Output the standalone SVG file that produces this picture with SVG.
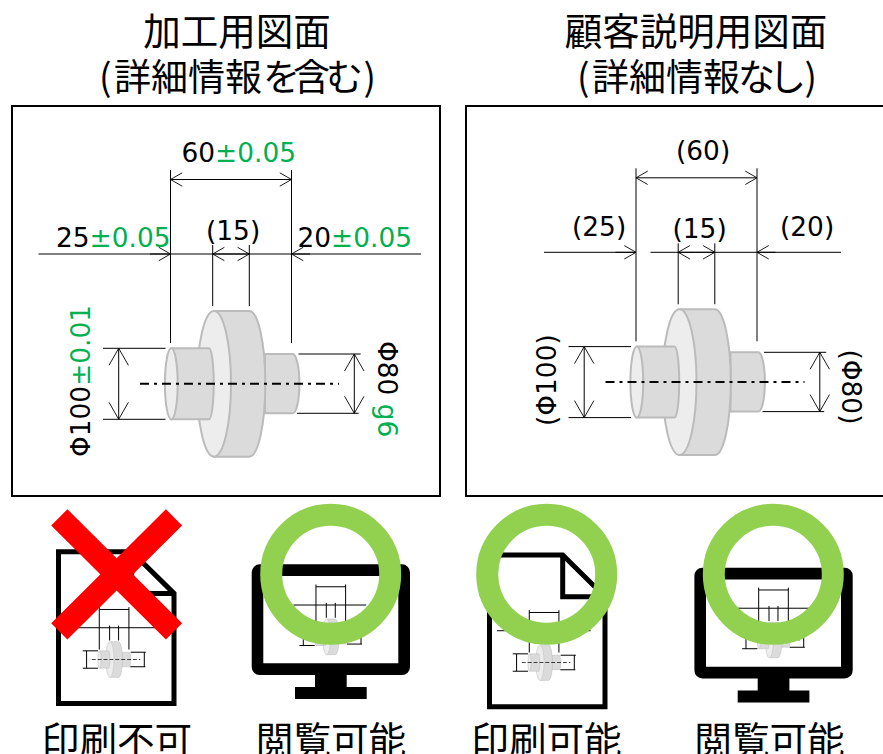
<svg xmlns="http://www.w3.org/2000/svg" width="883" height="754" viewBox="0 0 883 754">
<style>
text{font-family:"DejaVu Sans","Noto Sans CJK JP",sans-serif;font-size:26.4px;fill:#000}
.jp{font-family:"Noto Sans CJK JP",sans-serif;font-size:37.5px;text-anchor:middle}
.lb{font-size:37.6px}
.st{font-family:"Noto Sans CJK JP",sans-serif;font-size:37px}
.g{fill:#00B050}
.frame{fill:#fff;stroke:#000;stroke-width:2}
.ln{stroke:#000;stroke-width:1;fill:none;vector-effect:non-scaling-stroke}
.side{fill:#DBDBDB;stroke:#BBBBBB;stroke-width:2}
.face{fill:#EDEDED;stroke:#BBBBBB;stroke-width:2}
.cl{stroke:#000;stroke-width:2;stroke-dasharray:9 5 3 5;fill:none}
.ah{marker-end:url(#ah)}
.dh{marker-start:url(#av);marker-end:url(#av)}
.dhh{marker-start:url(#ah);marker-end:url(#ah)}
.ring{fill:none;stroke:#92D050;stroke-width:22}
.doc{fill:#fff;stroke:#000;stroke-width:5;stroke-linejoin:miter}
</style>
<defs>
<marker id="ah" markerUnits="userSpaceOnUse" markerWidth="14" markerHeight="16" refX="13" refY="8" orient="auto-start-reverse" overflow="visible"><path d="M1.3,1.3 L13,8 L1.3,14.7" fill="none" stroke="#000" stroke-width=".9"/></marker>
<marker id="av" markerUnits="userSpaceOnUse" markerWidth="20" markerHeight="22" refX="18" refY="11" orient="auto-start-reverse" overflow="visible"><path d="M1,1.3 L18,11 L1,20.7" fill="none" stroke="#000" stroke-width=".9"/></marker>
<g id="part">
<path class="side" d="M265,354H292.7A6.7,29.65 0 0 1 292.7,413.3H265Z"/>
<path class="side" d="M214,311H249.3A16,72.85 0 0 1 249.3,456.7H214Z"/>
<ellipse class="face" cx="214" cy="383.8" rx="17" ry="72.85"/>
<path class="side" d="M171.3,348.3H209A4.7,35.5 0 0 1 209,419.3H171.3Z"/>
<ellipse class="face" cx="171.3" cy="383.8" rx="6.4" ry="35.5"/>
</g>
<g id="ext">
<path class="ln" d="M170.5,170V343M291.5,170V343M212.7,245V306M249.3,245V306M103,348.3H165.5M103,419.3H165.5M298.5,354H360.7M297,413.3H358.7"/>
</g>
<g id="miniL">
<use href="#ext"/><path class="ln" d="M170.5,179.5H291.5M38.5,254H421M118.7,348.3V419.3M354.3,354V413.3"/><use href="#part"/>
<line x1="140" y1="383.7" x2="338" y2="383.7" stroke="#000" stroke-width="3" stroke-dasharray="16 8"/>
</g>
<g id="miniR">
<use href="#ext"/><path class="ln" d="M170.5,179.5H291.5M78.5,254H375.5M118.7,348.3V419.3M354.3,354V413.3"/><use href="#part"/>
<line x1="140" y1="383.7" x2="338" y2="383.7" stroke="#000" stroke-width="3" stroke-dasharray="16 8"/>
</g>
<g id="monitor">
<path fill-rule="evenodd" d="M259.7,564.3H402A8,8 0 0 1 410,572.3V667A8,8 0 0 1 402,675H346.7V687H366.7V699H295V687H315V675H259.7A8,8 0 0 1 251.7,667V572.3A8,8 0 0 1 259.7,564.3ZM263.3,576V663.3H398.3V576Z"/>
</g>
<g id="docshape">
<path class="doc" d="M489.5,555H562.7L605,596.7V706.8H489.5Z"/>
<path class="doc" style="fill:none" d="M562.7,555V596.7H605"/>
</g>
</defs>
<rect width="883" height="754" fill="#fff"/>

<g id="title-left">
<text class="jp" x="237" y="45">加工用図面</text>
<text class="st" y="91"><tspan x="99">(</tspan><tspan x="114 151 188 225 263 293 326">詳細情報を含む</tspan><tspan x="363.5">)</tspan></text>
</g>
<g id="title-right">
<text class="jp" x="696" y="45">顧客説明用図面</text>
<text class="st" y="91"><tspan x="577">(</tspan><tspan x="592 629 666 703 738 769">詳細情報なし</tspan><tspan x="804.5">)</tspan></text>
</g>

<g id="drawing-left">
<rect class="frame" x="12" y="106" width="428" height="390"/>
<use href="#part"/>
<line class="cl" x1="140" y1="383.7" x2="339" y2="383.7"/>
<text x="181.5" y="161.7">60<tspan class="g">±0.05</tspan></text>
<text x="56" y="247">25<tspan class="g">±0.05</tspan></text>
<text x="206" y="240">(15)</text>
<text x="297.5" y="246.7">20<tspan class="g">±0.05</tspan></text>
<text transform="translate(90 457) rotate(-90)">Φ100<tspan class="g">±0.01</tspan></text>
<text transform="translate(377.5 341) rotate(90)">Φ80 <tspan class="g">g6</tspan></text>
</g>

<g id="drawing-right">
<rect class="frame" x="466" y="106" width="440" height="390"/>
<use href="#part" transform="translate(465.5 -1.7)"/>
<line class="cl" x1="605.5" y1="382" x2="804.5" y2="382"/>
<text x="676" y="160">(60)</text>
<text x="572" y="236">(25)</text>
<text x="672.5" y="238">(15)</text>
<text x="780" y="236">(20)</text>
<text transform="translate(556 426) rotate(-90)">(Φ100)</text>
<text transform="translate(841.5 349.5) rotate(90)">(Φ80)</text>
</g>

<g id="connectors">
<use href="#ext"/>
<line class="ln dhh" x1="170.5" y1="179.5" x2="291.5" y2="179.5"/>
<line class="ln" x1="38.5" y1="254" x2="421" y2="254"/>
<line class="ah" stroke="#000" x1="150" y1="254" x2="170.5" y2="254"/>
<line class="ah" stroke="#000" x1="230" y1="254" x2="212.7" y2="254"/>
<line class="ah" stroke="#000" x1="230" y1="254" x2="249.3" y2="254"/>
<line class="ah" stroke="#000" x1="310" y1="254" x2="291.5" y2="254"/>
<line class="ln dh" x1="118.7" y1="348.3" x2="118.7" y2="419.3"/>
<line class="ln dh" x1="354.3" y1="354" x2="354.3" y2="413.3"/>
<use href="#ext" transform="translate(465.5 -1.7)"/>
<g transform="translate(465.5 -1.7)">
<line class="ln dhh" x1="170.5" y1="179.5" x2="291.5" y2="179.5"/>
<line class="ln" x1="78.5" y1="254" x2="170.5" y2="254"/>
<line class="ln" x1="185" y1="254" x2="375.5" y2="254"/>
<line class="ah" stroke="#000" x1="150" y1="254" x2="170.5" y2="254"/>
<line class="ah" stroke="#000" x1="230" y1="254" x2="212.7" y2="254"/>
<line class="ah" stroke="#000" x1="230" y1="254" x2="249.3" y2="254"/>
<line class="ah" stroke="#000" x1="310" y1="254" x2="291.5" y2="254"/>
<line class="ln dh" x1="118.7" y1="348.3" x2="118.7" y2="419.3"/>
<line class="ln dh" x1="354.3" y1="354" x2="354.3" y2="413.3"/>
</g>
</g>

<g id="icon-print-no">
<use href="#docshape" transform="translate(-431 -3.3)"/>
<use href="#miniL" transform="translate(57.5 565.5) scale(.245)"/>
<path d="M59.3,517.3L174,631.3M174,517.3L59.3,631.3" fill="none" stroke="#FF0000" stroke-width="23"/>
<text class="jp lb" x="117" y="753.5">印刷不可</text>
</g>

<g id="icon-view-left">
<use href="#monitor"/>
<use href="#miniR" transform="translate(274.2 542.8) scale(.245)"/>
<circle class="ring" cx="330.7" cy="574.3" r="59.5"/>
<text class="jp lb" x="331" y="753.5">閲覧可能</text>
</g>

<g id="icon-print-ok">
<use href="#docshape"/>
<use href="#miniL" transform="translate(487.5 568.5) scale(.245)"/>
<circle class="ring" cx="546.7" cy="574.3" r="59.5"/>
<text class="jp lb" x="546.5" y="753.5">印刷可能</text>
</g>

<g id="icon-view-right">
<use href="#monitor" transform="translate(442.7 3.4)"/>
<use href="#miniR" transform="translate(716.9 546) scale(.245)"/>
<circle class="ring" cx="773.3" cy="574.3" r="59.5"/>
<text class="jp lb" x="769.5" y="753.5">閲覧可能</text>
</g>
</svg>
